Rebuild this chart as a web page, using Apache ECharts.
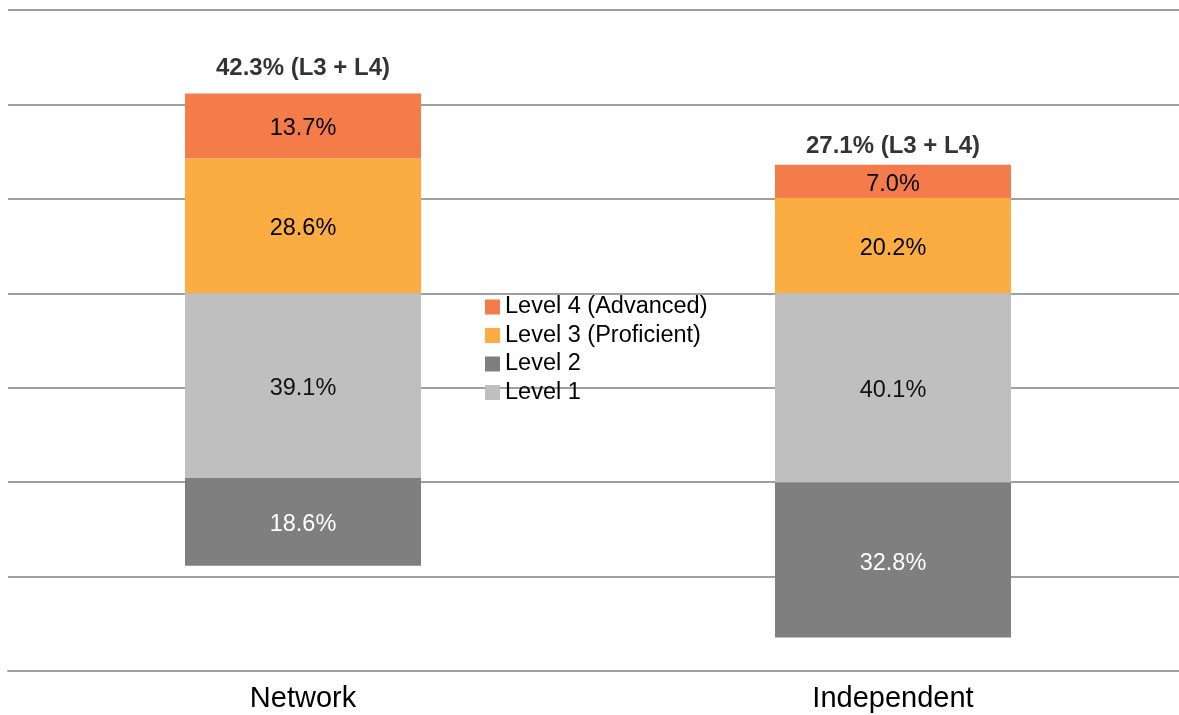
<!DOCTYPE html>
<html>
<head>
<meta charset="utf-8">
<script src="https://cdn.jsdelivr.net/npm/echarts@6/dist/echarts.min.js"></script>
<style>
html,body{margin:0;padding:0;background:#fff;overflow:hidden;width:1179px;height:715px;}
#chart{width:1188px;height:715px;}
</style>
</head>
<body>
<div id="chart"></div>
<script>
var categories = ['Network', 'Independent'];
var level4 = [13.7, 7.0];
var level3 = [28.6, 20.2];
var level1 = [39.1, 40.1];
var level2 = [18.6, 32.8];
var totals = [42.3, 27.1];
var totalLabelDistance = [13, 7];

var FONT = '"Liberation Sans", Arial, sans-serif';
var chart = echarts.init(document.getElementById('chart'));

function pct(v) { return Math.abs(v).toFixed(1) + '%'; }

function valueLabel(color) {
  return {
    show: true, position: 'inside', offset: [0, 3],
    fontFamily: FONT, fontSize: 23.5, color: color,
    formatter: function (p) { return pct(p.value); }
  };
}

var option = {
  animation: false,
  backgroundColor: '#ffffff',
  textStyle: { fontFamily: FONT },
  grid: { left: 8, right: 0, top: 10, bottom: 44, containLabel: false },
  legend: {
    orient: 'vertical',
    left: 480,
    top: 290,
    itemWidth: 15,
    itemHeight: 15,
    itemGap: 4.5,
    icon: 'rect',
    textStyle: { fontFamily: FONT, fontSize: 23.5, color: '#000', lineHeight: 24 },
    data: ['Level 4 (Advanced)', 'Level 3 (Proficient)', 'Level 2', 'Level 1']
  },
  xAxis: {
    type: 'category',
    data: categories,
    position: 'bottom',
    axisLine: { onZero: false, lineStyle: { color: '#a0a0a0', width: 2 } },
    axisTick: { show: false },
    axisLabel: { fontFamily: FONT, fontSize: 29, color: '#000', margin: 13 }
  },
  yAxis: {
    type: 'value',
    min: -80,
    max: 60,
    interval: 20,
    axisLine: { show: false },
    axisTick: { show: false },
    axisLabel: { show: false },
    splitLine: { lineStyle: { color: '#a0a0a0', width: 2 } }
  },
  series: [
    {
      name: 'Level 3 (Proficient)', type: 'bar', stack: 's', barWidth: 236,
      data: level3,
      itemStyle: { color: '#FBAD42' },
      label: valueLabel('#000')
    },
    {
      name: 'Level 4 (Advanced)', type: 'bar', stack: 's', barWidth: 236,
      data: level4,
      itemStyle: { color: '#F47C4A' },
      label: valueLabel('#000')
    },
    {
      name: 'Level 1', type: 'bar', stack: 's', barWidth: 236,
      data: level1.map(function (v) { return -v; }),
      itemStyle: { color: '#BFBFBF' },
      label: valueLabel('#111')
    },
    {
      name: 'Level 2', type: 'bar', stack: 's', barWidth: 236,
      data: level2.map(function (v) { return -v; }),
      itemStyle: { color: '#7F7F7F' },
      label: valueLabel('#ffffff')
    },
    {
      name: 'totals', type: 'scatter', symbolSize: 0, silent: true,
      data: totals.map(function (v, i) {
        return { value: [categories[i], v], label: { distance: totalLabelDistance[i] } };
      }),
      label: {
        show: true, position: 'top', fontFamily: FONT, fontSize: 24, fontWeight: 'bold', color: '#000',
        formatter: function (p) { return p.value[1].toFixed(1) + '% (L3 + L4)'; }
      }
    }
  ]
};
chart.setOption(option);
</script>
</body>
</html>
